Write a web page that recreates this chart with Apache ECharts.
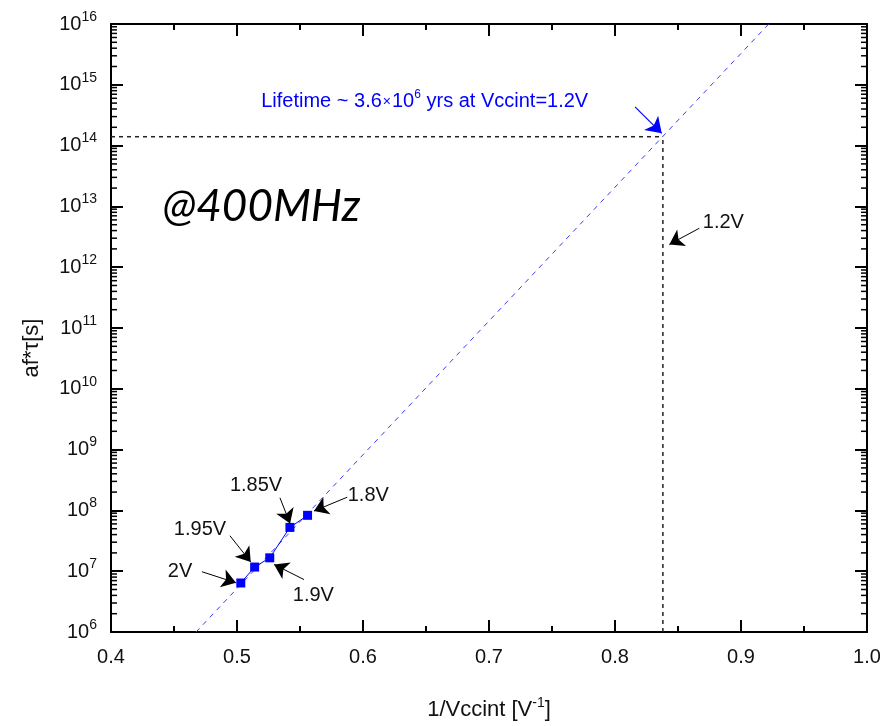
<!DOCTYPE html>
<html><head><meta charset="utf-8">
<script src="https://cdn.jsdelivr.net/npm/echarts@6/dist/echarts.min.js"></script>
<style>html,body{margin:0;padding:0;background:#fff}#c{width:885px;height:726px}</style>
</head><body><div id="c"></div>
<script>
// ---- data ----
const xTicks = [0.4, 0.5, 0.6, 0.7, 0.8, 0.9, 1.0];
const yDecades = [6, 7, 8, 9, 10, 11, 12, 13, 14, 15, 16];
const voltLabels = ['2V', '1.95V', '1.9V', '1.85V', '1.8V'];
const invV = [0.503, 0.514, 0.526, 0.542, 0.556];
const afTau = [6.4e6, 1.17e7, 1.66e7, 5.25e7, 8.3e7];
const fitX = [0.4675, 0.922];
const fitY = [1e6, 1e16];
const refX = 0.838;       // 1/1.2V marker
const refY = 1.4e14;      // lifetime level
// annotation texts: [text, x, y]
const noteTexts = [
  ['2V', 0.4548, 9.8e6],
  ['1.95V', 0.4706, 4.92e7],
  ['1.9V', 0.5606, 4.05e6],
  ['1.85V', 0.5151, 2.59e8],
  ['1.8V', 0.6042, 1.78e8],
  ['1.2V', 0.8860, 5.46e12]
];
// arrows: [fromX, fromY, toX, toY]
const noteArrows = [
  [0.4722, 9.8e6, 0.4992, 6.44e6],
  [0.4944, 3.83e7, 0.5109, 1.42e7],
  [0.5532, 7.28e6, 0.5294, 1.29e7],
  [0.5341, 1.61e8, 0.5421, 6.1e7],
  [0.5875, 1.65e8, 0.5611, 9.77e7],
  [0.8669, 4.37e12, 0.8431, 2.37e12]
];
const lifeArrow = [0.8159, 4.33e14, 0.8371, 1.59e14];
const lifePos = [0.5196, 5.22e14];
const freqPos = [0.4413, 9.6e12];

const X_MIN = xTicks[0], X_MAX = xTicks[xTicks.length - 1];
const Y_MIN = Math.pow(10, yDecades[0]), Y_MAX = Math.pow(10, yDecades[yDecades.length - 1]);
const FONT = '"Liberation Sans", Arial, sans-serif';

// minor ticks 2..9 x 10^k for the log axis
const minorVals = [];
for (let i = 0; i < yDecades.length - 1; i++) {
  for (let m = 2; m <= 9; m++) minorVals.push([X_MIN, m * Math.pow(10, yDecades[i])]);
}

const chart = echarts.init(document.getElementById('c'));
const axisBase = {
  axisLine: { show: true, lineStyle: { color: '#000', width: 2 } },
  axisTick: { show: true, inside: true, length: 12, lineStyle: { color: '#000', width: 2 } },
  splitLine: { show: false }
};
const yLabelRich = {
  b: { fontSize: 20, fontFamily: FONT, color: '#111' },
  s: { fontSize: 14, fontFamily: FONT, color: '#111', padding: [0, 0, 14, 0] }
};
const noItem = { color: 'transparent', opacity: 1 };

chart.setOption({
  animation: false,
  grid: { left: 111, right: 18, top: 24, bottom: 87 },
  xAxis: [
    Object.assign({}, axisBase, {
      type: 'value', min: X_MIN, max: X_MAX, interval: 0.1, position: 'bottom',
      minorTick: { show: true, splitNumber: 2, length: 6, lineStyle: { color: '#000', width: 2 } },
      axisLabel: { margin: 15, fontSize: 20, fontFamily: FONT, color: '#111', formatter: v => v.toFixed(1) },
      name: '{t|1/Vccint [V}{s|-1}{t|]}', nameLocation: 'middle', nameGap: 64,
      nameTextStyle: { rich: {
        t: { fontSize: 22, fontFamily: FONT, color: '#111' },
        s: { fontSize: 14, fontFamily: FONT, color: '#111', padding: [0, 0, 14, 0] } } }
    }),
    Object.assign({}, axisBase, {
      type: 'value', min: X_MIN, max: X_MAX, interval: 0.1, position: 'top',
      minorTick: { show: true, splitNumber: 2, length: 6, lineStyle: { color: '#000', width: 2 } },
      axisLabel: { show: false }
    })
  ],
  yAxis: [
    Object.assign({}, axisBase, {
      type: 'log', logBase: 10, min: Y_MIN, max: Y_MAX, interval: 1, position: 'left',
      axisLabel: { margin: 14, fontSize: 20, fontFamily: FONT, color: '#111',
        formatter: v => '{b|10}{s|' + Math.round(Math.log10(v)) + '}', rich: yLabelRich },
      name: 'af*τ[s]', nameLocation: 'middle', nameGap: 68, nameRotate: 90,
      nameTextStyle: { fontSize: 22, fontFamily: FONT, color: '#111', padding: [0, 40, 0, 0] }
    }),
    Object.assign({}, axisBase, {
      type: 'log', logBase: 10, min: Y_MIN, max: Y_MAX, interval: 1, position: 'right',
      axisLabel: { show: false }
    })
  ],
  series: [
    {
      type: 'custom', silent: true, z: 5,
      data: minorVals,
      renderItem: function (params, api) {
        const v = api.value(1);
        const pl = api.coord([X_MIN, v]);
        const pr = api.coord([X_MAX, v]);
        return { type: 'group', children: [
          { type: 'line', shape: { x1: pl[0], y1: pl[1], x2: pl[0] + 6, y2: pl[1] }, style: { stroke: '#000', lineWidth: 1.5 } },
          { type: 'line', shape: { x1: pr[0], y1: pr[1], x2: pr[0] - 6, y2: pr[1] }, style: { stroke: '#000', lineWidth: 1.5 } }
        ] };
      }
    },
    {
      type: 'line', silent: true, showSymbol: false, z: 2,
      data: fitX.map((x, i) => [x, fitY[i]]),
      lineStyle: { color: '#3a3aff', width: 1, type: [5, 5] }
    },
    {
      type: 'line', silent: true, showSymbol: false, z: 2,
      data: [[X_MIN, refY], [refX, refY]],
      lineStyle: { color: '#222', width: 1.5, type: [4, 4] }
    },
    {
      type: 'line', silent: true, showSymbol: false, z: 2,
      data: [[refX, Y_MIN], [refX, refY]],
      lineStyle: { color: '#222', width: 1.5, type: [4, 4] }
    },
    {
      type: 'line', silent: true, z: 4,
      symbol: 'rect', symbolSize: 9, showAllSymbol: true,
      data: invV.map((x, i) => [x, afTau[i]]),
      itemStyle: { color: '#0000ff' },
      lineStyle: { color: '#0000ff', width: 1 }
    },
    {
      type: 'lines', coordinateSystem: 'cartesian2d', silent: true, z: 6,
      symbol: ['none', 'arrow'], symbolSize: [0, 14],
      data: noteArrows.map(a => ({ coords: [[a[0], a[1]], [a[2], a[3]]] })),
      lineStyle: { color: '#000', width: 1, opacity: 1 }
    },
    {
      type: 'lines', coordinateSystem: 'cartesian2d', silent: true, z: 6,
      symbol: ['none', 'arrow'], symbolSize: [0, 15],
      data: [{ coords: [[lifeArrow[0], lifeArrow[1]], [lifeArrow[2], lifeArrow[3]]] }],
      lineStyle: { color: '#0000ff', width: 1.2, opacity: 1 }
    },
    {
      type: 'scatter', silent: true, z: 7, symbolSize: 1,
      itemStyle: noItem,
      data: noteTexts.map(t => ({ name: t[0], value: [t[1], t[2]] })),
      label: { show: true, position: 'inside', formatter: p => p.name, fontSize: 20, fontFamily: FONT, color: '#111' }
    },
    {
      type: 'scatter', silent: true, z: 7, symbolSize: 1,
      itemStyle: noItem,
      data: [{ value: lifePos }],
      label: { show: true, position: [0, 0], align: 'left', verticalAlign: 'middle',
        formatter: '{t|Lifetime ~ 3.6}{x|×}{t|10}{s|6}{t| yrs at Vccint=1.2V}',
        rich: {
          t: { fontSize: 20, fontFamily: FONT, color: '#0000ff' },
          x: { fontSize: 14, fontFamily: FONT, color: '#0000ff', padding: [2, 1, 0, 1] },
          s: { fontSize: 12, fontFamily: FONT, color: '#0000ff', padding: [0, 0, 14, 0] }
        } }
    },
    {
      type: 'scatter', silent: true, z: 7, symbolSize: 1,
      itemStyle: noItem,
      data: [{ value: freqPos }],
      label: { show: true, position: [0, 0], align: 'left', verticalAlign: 'middle',
        formatter: '@400MHz', fontSize: 44, fontStyle: 'italic', fontFamily: 'Lato, "Open Sans", sans-serif', color: '#000' }
    }
  ]
});
</script></body></html>
